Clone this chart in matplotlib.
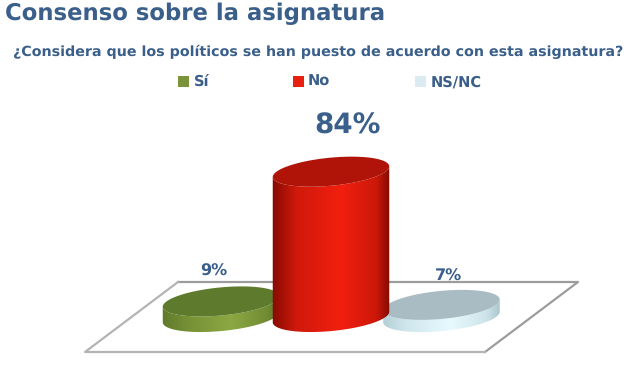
import numpy as np
import matplotlib
matplotlib.use("Agg")
import matplotlib.pyplot as plt
from matplotlib.colors import LinearSegmentedColormap
from matplotlib.patches import Polygon, Rectangle

plt.rcParams["text.hinting"] = "no_hinting"

categories = ["Sí", "No", "NS/NC"]
values = [9, 84, 7]
value_labels = ["9%", "84%", "7%"]

title = "Consenso sobre la asignatura"
subtitle = "¿Considera que los políticos se han puesto de acuerdo con esta asignatura?"

# colours per bar: side gradient (edge, mid, bright, mid, edge) + top
side_colors = [["#5f7a2c", "#758f35", "#8ca842", "#728c34", "#5a7429"],
               ["#860b02", "#cf190b", "#f21f0f", "#cc180a", "#7e0a02"],
               ["#b4ced6", "#cfe6ed", "#e8fafe", "#cde4ea", "#a9c4cc"]]
top_colors = ["#5e7a2d", "#b01408", "#a9bcc4"]
legend_colors = ["#7b943c", "#e8200f", "#dcebf2"]

# layout, everything in pixels of the image
text_color = "#3a5f8a"
bar_x = [221, 331, 441.5]
base_y = 317
px_per_pct = 1.73
a, b = 58.5, 14.0
tilt = np.radians(5.5)
label_x = [214, 348, 449]
label_gap = [30, 46, 29]
label_size = [11.5, 20, 11.5]
draw_order = [0, 2, 1]
legend_x = [178, 293, 415]
legend_text_x = [194, 308, 431]

fig = plt.figure(figsize=(6.31, 3.73), dpi=100)
ax = fig.add_axes([0, 0, 1, 1])
ax.set_xlim(0, 631)
ax.set_ylim(373, 0)
ax.axis("off")


def ellipse(cx, cy, t):
    x = cx + a * np.cos(t) * np.cos(tilt) + b * np.sin(t) * np.sin(tilt)
    y = cy - a * np.cos(t) * np.sin(tilt) + b * np.sin(t) * np.cos(tilt)
    return np.column_stack([x, y])


def cylinder(cx, value, colors, top_color):
    top_y = base_y - value * px_per_pct
    t0 = np.arctan2(b * np.sin(tilt), a * np.cos(tilt))
    t = np.linspace(t0, t0 + np.pi, 80)
    outline = np.vstack([ellipse(cx, base_y, t), ellipse(cx, top_y, t[::-1])])
    clip = Polygon(outline, closed=True, transform=ax.transData, fc="none", ec="none")
    ax.add_patch(clip)
    stops = [0, 0.2, 0.58, 0.88, 1]
    cmap = LinearSegmentedColormap.from_list("side", list(zip(stops, colors)))
    grad = np.linspace(0, 1, 200).reshape(1, -1)
    im = ax.imshow(grad, cmap=cmap, aspect="auto", interpolation="bilinear",
                   extent=[cx - a - 1, cx + a + 1, base_y + 20, top_y - 20], zorder=3)
    im.set_clip_path(clip)
    full = ellipse(cx, top_y, np.linspace(0, 2 * np.pi, 160))
    ax.add_patch(Polygon(full, closed=True, fc=top_color, ec="none", zorder=3))


# floor
ax.plot([178, 578, 485], [282, 282, 352], color="#9c9c9c", lw=1.6, zorder=1)
ax.plot([178, 85, 485], [282, 352, 352], color="#b4b4b4", lw=1.6, zorder=1)

for i in draw_order:
    cylinder(bar_x[i], values[i], side_colors[i], top_colors[i])
    ax.text(label_x[i], base_y - values[i] * px_per_pct - label_gap[i], value_labels[i],
            color=text_color, fontsize=label_size[i], fontweight="bold",
            ha="center", va="center", zorder=5)

ax.text(5, 14, title, color=text_color, fontsize=16.4, fontweight="bold", ha="left", va="center")
ax.text(13, 52, subtitle, color=text_color, fontsize=10.27, fontweight="bold", ha="left", va="center")

for i in range(len(categories)):
    ax.add_patch(Rectangle((legend_x[i], 76), 11, 11, fc=legend_colors[i], ec="none"))
    ax.text(legend_text_x[i], 82, categories[i], color=text_color, fontsize=10.5,
            fontweight="bold", ha="left", va="center")

fig.savefig("out.png", dpi=100)
